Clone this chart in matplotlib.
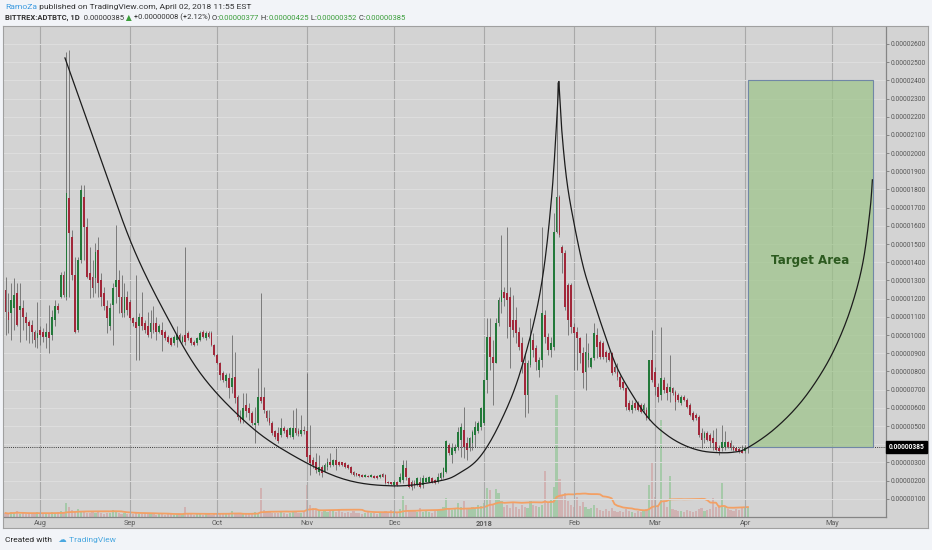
import numpy as np
import pandas as pd
import matplotlib
matplotlib.use("Agg")
import matplotlib.pyplot as plt
import matplotlib.dates as mdates
from matplotlib.ticker import FuncFormatter, FixedLocator
from matplotlib.patches import Rectangle

# ADT/BTC daily candles, prices in satoshi (1e-8 BTC), first candle 2017-07-20
start_date = "2017-07-20"
opens = [
    1248, 1129, 1120, 1147, 1230, 1138, 1147, 1101, 1074, 1056, 1019, 983,
    1028, 1019, 992, 1019, 1001, 1083, 1157, 1211, 1331, 1211, 1752, 1541,
    1331, 1028, 1413, 1761, 1596, 1340, 1321, 1312, 1468, 1303, 1230, 1157,
    1047, 1166, 1266, 1303, 1211, 1120, 1211, 1184, 1092, 1074, 1047, 1101,
    1065, 1047, 1019, 1065, 1065, 1019, 1028, 1019, 992, 983, 955, 973,
    1001, 964, 1001, 1010, 983, 964, 955, 973, 1019, 983, 1010, 1010,
    946, 891, 845, 790, 745, 763, 717, 772, 662, 552, 534, 616,
    598, 570, 507, 515, 662, 662, 580, 543, 515, 470, 460, 451,
    488, 479, 451, 440, 488, 470, 455, 480, 470, 340, 314, 305,
    250, 277, 250, 277, 305, 286, 314, 305, 300, 295, 286, 277,
    250, 240, 235, 231, 222, 228, 222, 226, 226, 218, 235, 231,
    195, 190, 176, 195, 195, 204, 268, 213, 195, 186, 176, 195,
    176, 195, 195, 213, 204, 195, 213, 222, 250, 396, 341, 360,
    387, 424, 479, 405, 378, 405, 451, 470, 497, 515, 753, 991,
    882, 845, 1065, 1184, 1239, 1230, 1211, 1083, 1083, 1019, 955, 845,
    671, 836, 973, 927, 808, 863, 1110, 991, 918, 936, 1568, 1761,
    1486, 1449, 1275, 1275, 1046, 1019, 982, 900, 799, 863, 827, 872,
    1001, 964, 955, 909, 900, 900, 827, 799, 772, 744, 708, 625,
    588, 625, 625, 616, 588, 588, 543, 863, 799, 717, 671, 753,
    717, 689, 708, 689, 671, 625, 662, 643, 616, 570, 561, 552,
    460, 433, 460, 451, 433, 414, 378, 378, 387, 414, 405, 387,
    378, 372, 369, 360, 377,
]
highs = [
    1321, 1230, 1285, 1312, 1285, 1285, 1193, 1129, 1083, 1083, 1028, 1184,
    1047, 1040, 1065, 1166, 1138, 1193, 1175, 1349, 1350, 2558, 2567, 1578,
    1431, 1431, 1825, 1825, 1642, 1486, 1413, 1505, 1541, 1340, 1266, 1193,
    1175, 1285, 1605, 1358, 1331, 1285, 1240, 1200, 1100, 1331, 1120, 1239,
    1080, 1129, 1138, 1157, 1101, 1060, 1074, 1030, 1000, 990, 1000, 1047,
    1010, 1000, 1486, 1020, 990, 975, 990, 1020, 1030, 1020, 1020, 1020,
    950, 900, 854, 800, 790, 790, 1001, 909, 671, 589, 680, 680,
    625, 580, 607, 818, 1230, 717, 590, 589, 525, 480, 497, 543,
    500, 490, 497, 589, 598, 490, 560, 500, 790, 506, 330, 350,
    341, 286, 295, 323, 350, 320, 378, 310, 305, 300, 290, 282,
    255, 244, 238, 235, 236, 232, 235, 230, 229, 235, 240, 235,
    200, 195, 204, 200, 240, 314, 314, 222, 204, 204, 220, 222,
    231, 220, 225, 218, 208, 240, 250, 275, 424, 406, 406, 400,
    497, 515, 607, 442, 440, 478, 525, 525, 607, 753, 1092, 1092,
    973, 1092, 1210, 1550, 1266, 1596, 1266, 1220, 1156, 1046, 991, 900,
    863, 1092, 1010, 945, 882, 1596, 1138, 1010, 991, 1669, 2393, 1770,
    1495, 1468, 1285, 1285, 1065, 1046, 991, 936, 1010, 955, 880, 1065,
    1037, 975, 965, 918, 910, 909, 835, 845, 780, 750, 717, 643,
    643, 635, 635, 625, 625, 607, 863, 1028, 827, 735, 1046, 772,
    735, 891, 717, 698, 680, 670, 670, 653, 625, 580, 570, 561,
    488, 470, 470, 460, 478, 488, 396, 506, 470, 420, 424, 395,
    385, 387, 396, 396, 425,
]
lows = [
    1001, 1010, 973, 1028, 1047, 964, 1028, 973, 955, 955, 937, 928,
    946, 960, 928, 900, 973, 1047, 1120, 1202, 1211, 1193, 1211, 1303,
    1010, 1019, 1395, 1413, 1312, 1202, 1211, 1230, 1211, 1157, 1138, 1010,
    1028, 946, 1175, 1120, 1101, 1101, 1110, 1080, 1050, 863, 863, 1028,
    1010, 992, 983, 1010, 973, 1010, 910, 975, 955, 940, 945, 937,
    965, 955, 946, 975, 945, 940, 945, 965, 985, 975, 985, 940,
    885, 840, 754, 740, 717, 653, 680, 625, 534, 515, 515, 552,
    534, 505, 405, 506, 625, 570, 530, 506, 450, 430, 405, 442,
    460, 435, 442, 430, 450, 445, 445, 455, 300, 231, 270, 240,
    231, 222, 245, 259, 277, 280, 259, 280, 278, 270, 262, 235,
    225, 226, 222, 218, 218, 218, 218, 213, 208, 215, 218, 180,
    180, 175, 167, 170, 186, 186, 204, 158, 149, 158, 170, 158,
    158, 190, 190, 185, 180, 186, 204, 215, 240, 341, 295, 350,
    369, 332, 323, 314, 360, 370, 387, 460, 478, 506, 680, 808,
    616, 845, 1050, 1120, 1157, 982, 817, 991, 955, 918, 790, 552,
    570, 827, 882, 808, 772, 827, 955, 891, 882, 918, 1559, 1541,
    1340, 1138, 1000, 1010, 808, 808, 845, 707, 698, 827, 820, 863,
    872, 870, 870, 854, 855, 781, 790, 753, 705, 700, 588, 580,
    570, 590, 580, 570, 570, 534, 534, 744, 671, 634, 643, 680,
    643, 634, 670, 588, 630, 615, 635, 598, 555, 525, 535, 442,
    378, 405, 415, 387, 369, 360, 341, 360, 369, 380, 369, 362,
    360, 350, 350, 350, 352,
]
closes = [
    1129, 1083, 1193, 1221, 1056, 1157, 1101, 1065, 1047, 1019, 973, 1010,
    1001, 992, 1019, 983, 1101, 1157, 1138, 1331, 1221, 1779, 1560, 1331,
    1019, 1413, 1798, 1596, 1321, 1303, 1257, 1459, 1285, 1211, 1157, 1092,
    1147, 1257, 1303, 1211, 1120, 1211, 1138, 1092, 1065, 1037, 1101, 1047,
    1028, 1001, 1065, 1028, 1019, 1047, 1001, 983, 964, 946, 992, 1001,
    973, 992, 964, 983, 955, 946, 983, 1010, 992, 1010, 992, 946,
    891, 845, 781, 753, 781, 708, 763, 653, 552, 524, 598, 580,
    570, 515, 515, 662, 635, 589, 543, 515, 460, 442, 415, 488,
    470, 442, 488, 488, 460, 455, 480, 470, 330, 295, 286, 259,
    277, 240, 286, 305, 286, 314, 286, 286, 284, 277, 268, 240,
    231, 231, 226, 222, 231, 222, 231, 217, 213, 231, 222, 186,
    186, 179, 195, 176, 222, 286, 222, 167, 167, 176, 213, 167,
    213, 213, 218, 189, 186, 222, 240, 268, 415, 350, 378, 387,
    469, 497, 387, 369, 433, 469, 497, 515, 598, 753, 991, 882,
    845, 1065, 1193, 1248, 1202, 1193, 1046, 1028, 1010, 936, 854, 671,
    845, 991, 918, 854, 863, 1120, 991, 918, 955, 1568, 1761, 1550,
    1449, 1156, 1083, 1046, 1010, 982, 900, 790, 909, 900, 872, 1010,
    936, 882, 882, 882, 863, 790, 799, 772, 717, 708, 607, 588,
    616, 598, 588, 579, 616, 543, 863, 753, 717, 662, 763, 698,
    680, 717, 680, 634, 643, 662, 643, 607, 561, 534, 543, 451,
    424, 460, 424, 415, 405, 369, 360, 414, 414, 387, 378, 369,
    365, 360, 350, 377, 385,
]
volumes = [
    4, 3, 5, 4, 6, 3, 4, 3, 3, 4, 3, 5,
    4, 3, 4, 3, 5, 4, 5, 6, 5, 14, 10,
    7, 6, 8, 6, 5, 4, 4, 5,
    4, 5, 4, 3, 4, 4, 7, 5, 4, 3, 4, 3,
    3, 3, 4, 3, 3, 4, 3, 3, 3, 2, 3, 3, 2, 3, 3, 2, 3, 3,
    3, 10, 4, 3, 2, 3, 3, 2, 3, 3, 2, 3,
    3, 4, 3, 3, 3, 6, 4, 4, 3, 3, 3, 3, 4, 5, 4,
    29, 7, 5, 6, 4, 4, 4, 5, 4, 3, 4, 5, 5, 4, 4, 6,
    32, 12, 9, 7, 6, 5, 6, 5, 6, 7, 5, 8,
    5, 4, 5, 4, 6, 4, 4, 3, 4, 5, 4, 4, 3, 5, 4, 6, 5, 7,
    6, 5, 8, 21, 12, 7, 6, 6, 5, 9, 5, 6, 5, 4, 6, 7, 8, 10,
    19, 8, 7, 9, 14, 10, 16, 8, 9, 10, 9, 12, 11,
    14, 29, 27, 12, 28, 24, 16, 10, 12,
    9, 14, 10, 8, 12, 10, 9, 16, 12, 11, 10, 12,
    46, 14, 18, 30, 122, 38, 22, 24, 16, 12, 10, 20, 11, 15, 10, 8, 9, 12, 9,
    7, 6, 8, 6, 9, 6, 5, 6, 5, 8, 6, 5, 4, 6, 5, 6, 8,
    32, 55, 20, 12, 97, 15, 10, 41,
    8, 7, 6, 6, 5, 7, 6, 5, 6, 8, 9, 6, 7, 8, 19,
    10, 12, 34, 10, 8, 7, 6, 8, 7, 9, 10, 10,
]

# hand-drawn arcs, as (days since start, price) anchor points
arc1_days = [20.5, 32.6, 43.9, 55.7, 67.1, 80.9, 94.7, 115.3, 133.6, 149.8,
             156.7, 163.6, 170.5, 177.4, 184.3, 188.3, 190.8]
arc1_price = [2523, 1979, 1485, 1100, 792, 550, 380, 215, 171, 199,
              243, 331, 517, 792, 1232, 1759, 2391]
arc2_days = [190.8, 191.8, 193.5, 195.8, 199.2, 202.7, 206.1, 210.7, 216.5,
             222.2, 228.0, 233.7, 239.5, 245.2, 250.9, 255.6, 264.8, 274.0,
             282.0, 287.8, 292.4, 295.8, 298.1, 298.9]
arc2_price = [2393, 2127, 1853, 1633, 1376, 1193, 1028, 827, 662,
              534, 451, 397, 365, 354, 356, 378, 479, 626,
              809, 992, 1193, 1413, 1688, 1853]

target_start = "2018-04-02"
target_end = "2018-05-15"
target_low = 385
target_high = 2400
last_price = 385

W, H = 932, 550


def rect(x0, y0, x1, y1):
    return [x0 / W, 1 - y1 / H, (x1 - x0) / W, (y1 - y0) / H]


def catmull_rom(px, py, n=16):
    p = np.column_stack([px, py]).astype(float)
    p = np.vstack([p[0], p, p[-1]])
    t = np.linspace(0, 1, n, endpoint=False)[:, None]
    out = []
    for i in range(1, len(p) - 2):
        p0, p1, p2, p3 = p[i - 1], p[i], p[i + 1], p[i + 2]
        out.append(0.5 * (2 * p1 + (p2 - p0) * t
                          + (2 * p0 - 5 * p1 + 4 * p2 - p3) * t ** 2
                          + (3 * p1 - p0 - 3 * p2 + p3) * t ** 3))
    out.append(p[-2][None])
    out = np.vstack(out)
    return out[:, 0], out[:, 1]


o = np.array(opens)
h = np.array(highs)
l = np.array(lows)
c = np.array(closes)
vol = np.array(volumes, dtype=float)
dates = pd.date_range(start_date, periods=len(c), freq="D")
x = mdates.date2num(dates)
x0 = x[0]
up = c >= o

fig = plt.figure(figsize=(W / 100, H / 100), dpi=100)
fig.patch.set_facecolor("#f2f4f8")

# chart panel background and frame
panel = fig.add_axes(rect(3, 26, 928, 528))
panel.set_facecolor("#d3d3d3")
panel.set_xticks([])
panel.set_yticks([])
for s in panel.spines.values():
    s.set_color("#a0a0a0")
    s.set_linewidth(0.8)

# volume (behind the price candles)
vax = fig.add_axes(rect(4, 27, 886, 517), zorder=1)
vax.set_facecolor("none")
vcol = np.where(up, "#a6c9a9", "#d0b2b2")
vax.bar(x, vol, width=0.75, color=vcol, linewidth=0)
ma = pd.Series(vol).rolling(20, min_periods=1).mean()
vax.plot(x, ma, color="#f3a064", lw=1.3)
vax.set_ylim(0, 490)
vax.set_xlim(x0 - 0.52, x0 + 303.6)
vax.axis("off")

ax = fig.add_axes(rect(4, 27, 886, 517), zorder=2)
ax.set_facecolor("none")
ax.set_xlim(x0 - 0.52, x0 + 303.6)
ax.set_ylim(0, 2693)

# grid
month_ticks = pd.date_range("2017-08-01", "2018-05-01", freq="MS")
for m in mdates.date2num(month_ticks):
    ax.axvline(m, color="#a9a9a9", lw=0.8, zorder=0)
for lev in range(100, 2700, 100):
    ax.axhline(lev, color="#dedede", lw=0.7, zorder=0)

# candles
ax.vlines(x, l, h, color="#6b6b6b", lw=0.6, zorder=3)
body_lo = np.minimum(o, c)
body_h = np.maximum(np.abs(c - o), 6)
ax.bar(x, body_h, bottom=body_lo, width=0.62,
       color=np.where(up, "#23793a", "#a1283a"), linewidth=0, zorder=4)

# last price line
ax.axhline(last_price, color="#3a3a3a", lw=0.7, ls=(0, (1, 1.2)), zorder=5)

# target box
t0 = mdates.date2num(pd.Timestamp(target_start))
t1 = mdates.date2num(pd.Timestamp(target_end))
ax.add_patch(Rectangle((t0, target_low), t1 - t0, target_high - target_low,
                       facecolor="#9cc488", alpha=0.7, edgecolor="none", zorder=5))
ax.add_patch(Rectangle((t0, target_low), t1 - t0, target_high - target_low,
                       facecolor="none", edgecolor="#7187a6", lw=0.8, zorder=6))
ax.text((t0 + t1) / 2, (target_low + target_high) / 2 + 15, "Target Area",
        ha="center", va="center", fontsize=8.6, fontweight="bold",
        color="#2c5a1f", family="DejaVu Sans", zorder=7)

# arcs
for dd, pp in [(arc1_days, arc1_price), (arc2_days, arc2_price)]:
    cx, cy = catmull_rom(dd, pp)
    ax.plot(x0 + cx, cy, color="#1c1c1c", lw=0.9, zorder=6)

# axes styling
for side in ["top", "left"]:
    ax.spines[side].set_visible(False)
ax.spines["right"].set_color("#858585")
ax.spines["bottom"].set_color("#858585")
ax.spines["right"].set_linewidth(0.9)
ax.spines["bottom"].set_linewidth(0.9)

ax.yaxis.tick_right()
ax.yaxis.set_major_locator(FixedLocator(list(range(100, 2700, 100))))
ax.yaxis.set_major_formatter(FuncFormatter(
    lambda v, p: "" if abs(v - 400) < 1 else f"{v * 1e-8:.8f}"))
ax.tick_params(axis="y", length=2.2, width=0.6, color="#7a7a7a", pad=1.2,
               labelsize=4.7, labelcolor="#555555")
ax.xaxis.set_major_locator(FixedLocator(mdates.date2num(month_ticks)))
ax.set_xticklabels(["2018" if t.month == 1 else t.strftime("%b") for t in month_ticks])
ax.tick_params(axis="x", length=0, pad=2.0, labelsize=5.2, labelcolor="#5a5a5a")
for lab in ax.get_xticklabels():
    if lab.get_text() == "2018":
        lab.set_fontweight("bold")
for lab in ax.get_xticklabels() + ax.get_yticklabels():
    lab.set_family("Roboto")

ax.text(1.003, last_price, f"{last_price * 1e-8:.8f}", transform=ax.get_yaxis_transform(),
        ha="left", va="center", fontsize=4.8, fontweight="bold", color="white",
        family="Roboto", zorder=8,
        bbox=dict(boxstyle="square,pad=0.35", fc="black", ec="black"))

# header and footer text runs (spaces lead each piece so widths include them)
renderer = fig.canvas.get_renderer()


def text_run(xp, yp, parts, size):
    for s, col, wt in parts:
        t = fig.text(xp / W, 1 - yp / H, s, fontsize=size, color=col, fontweight=wt,
                     family=["Roboto", "DejaVu Sans"], ha="left", va="center")
        xp += t.get_window_extent(renderer=renderer).width
    return xp


dark = "#333333"
grn = "#3a9d3a"
text_run(5, 7, [("RamoZa", "#3d9be0", "normal"),
                (" published on TradingView.com, April 02, 2018 11:55 EST", dark, "normal")], 6.1)
text_run(5, 17.5, [("BITTREX:ADTBTC, 1D", dark, "bold"),
                   ("  0.00000385", dark, "normal"),
                   (" \u25b2", grn, "normal"),
                   (" +0.00000008 (+2.12%)", dark, "normal"),
                   (" O:", dark, "normal"), ("0.00000377", grn, "normal"),
                   (" H:", dark, "normal"), ("0.00000425", grn, "normal"),
                   (" L:", dark, "normal"), ("0.00000352", grn, "normal"),
                   (" C:", dark, "normal"), ("0.00000385", grn, "normal")], 5.5)
text_run(5, 540, [("Created with", "#222222", "normal"),
                  ("   \u2601", "#4aa8e0", "normal"),
                  (" TradingView", "#4aa8e0", "normal")], 6.0)

fig.savefig("out.png", dpi=100, facecolor=fig.get_facecolor())
